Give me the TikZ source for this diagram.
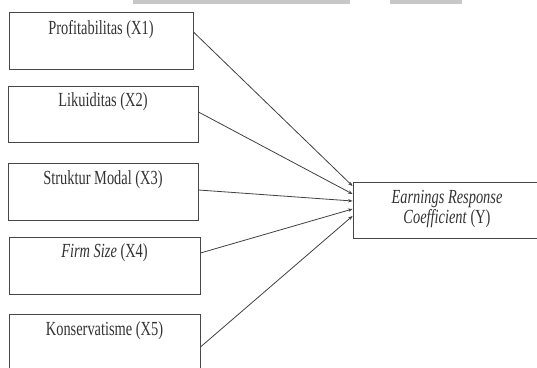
\documentclass[tikz,border=0pt]{standalone}
\usepackage{fontspec}
\setmainfont{Liberation Serif}
\usetikzlibrary{arrows.meta}
\tikzset{
  box/.style={draw=black!72, line width=0.9pt, inner sep=0pt, fill=white},
  lbl/.style={font=\fontsize{20}{20}\selectfont, text=black!80, inner sep=0pt, anchor=center},
  conn/.style={draw=black!75, line width=0.8pt, -{Stealth[length=4.5pt,width=3.5pt]}},
  bar/.style={fill=black!22, draw=none}
}
\newcommand{\sq}[1]{\scalebox{0.72}[1]{#1}}
\begin{document}
\begin{tikzpicture}[x=1pt,y=-1pt]
\useasboundingbox (0,0) rectangle (537,367);
\clip (0,0) rectangle (537,367);
\fill[bar] (133,0) rectangle (350,4);
\fill[bar] (390,0) rectangle (462,4);
\node[box, minimum width=184pt, minimum height=57pt] (b1) at (101,40.5) {};
\node[box, minimum width=190pt, minimum height=56pt] (b2) at (103,114) {};
\node[box, minimum width=190pt, minimum height=57pt] (b3) at (103,191.5) {};
\node[box, minimum width=191pt, minimum height=57pt] (b4) at (104.5,265.5) {};
\node[box, minimum width=191pt, minimum height=57pt] (b5) at (104.5,342.5) {};
\node[box, minimum width=187pt, minimum height=56pt] (y) at (446.5,210) {};
\node[lbl] (t1) at (101,30) {\sq{Profitabilitas (X1)}};
\node[lbl] (t2) at (103,102) {\sq{Likuiditas (X2)}};
\node[lbl] (t3) at (103,180) {\sq{Struktur Modal (X3)}};
\node[lbl] (t4) at (104.5,253) {\sq{\textit{Firm Size} (X4)}};
\node[lbl] (t5) at (104.5,331) {\sq{Konservatisme (X5)}};
\node[lbl] (ty1) at (447,199) {\sq{\textit{Earnings Response}}};
\node[lbl] (ty2) at (447,219) {\sq{\textit{Coefficient} (Y)}};
\draw[conn] ([yshift=8.5pt]b1.east) -- ([yshift=24pt]y.west);
\draw[conn] ([yshift=2pt]b2.east) -- ([yshift=16pt]y.west);
\draw[conn] ([yshift=1.5pt]b3.east) -- ([yshift=9pt]y.west);
\draw[conn] ([yshift=12.5pt]b4.east) -- ([yshift=1pt]y.west);
\draw[conn] ([yshift=-4.5pt]b5.east) -- ([yshift=-6pt]y.west);
\end{tikzpicture}
\end{document}
